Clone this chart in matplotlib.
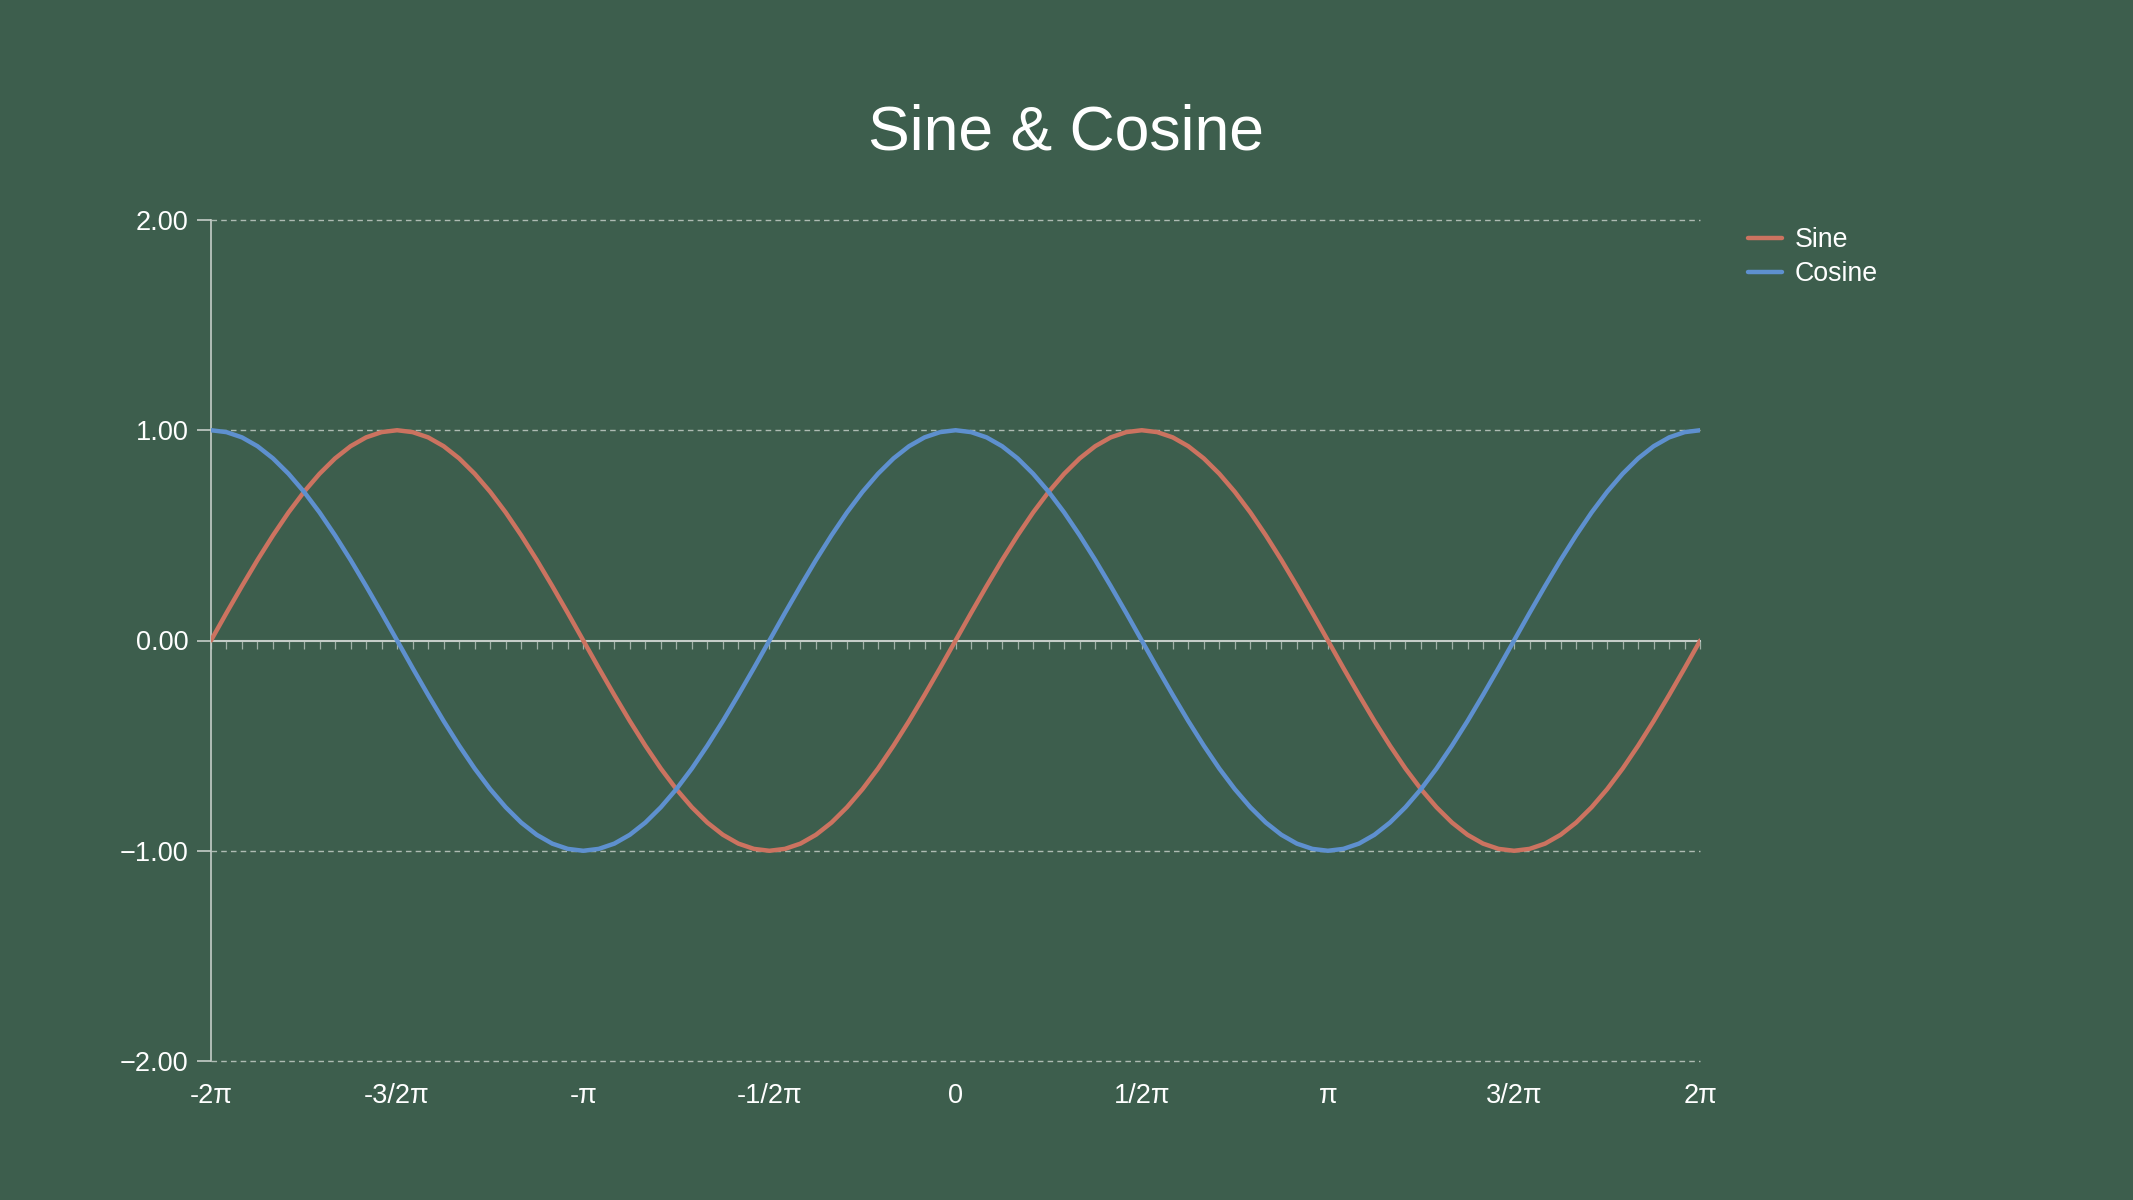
import matplotlib
matplotlib.use("Agg")
import matplotlib.pyplot as plt

plt.rcParams['font.family'] = ['Liberation Sans', 'DejaVu Sans']

# ---- data (sampled every pi/24 from -2pi to 2pi, 97 points) ----
sine = [
    0.0, 0.131, 0.259, 0.383, 0.5, 0.609, 0.707, 0.793, 0.866, 0.924, 0.966, 0.991, 1.0,
    0.991, 0.966, 0.924, 0.866, 0.793, 0.707, 0.609, 0.5, 0.383, 0.259, 0.131, 0.0,
    -0.131, -0.259, -0.383, -0.5, -0.609, -0.707, -0.793, -0.866, -0.924, -0.966, -0.991, -1.0,
    -0.991, -0.966, -0.924, -0.866, -0.793, -0.707, -0.609, -0.5, -0.383, -0.259, -0.131, 0.0,
    0.131, 0.259, 0.383, 0.5, 0.609, 0.707, 0.793, 0.866, 0.924, 0.966, 0.991, 1.0,
    0.991, 0.966, 0.924, 0.866, 0.793, 0.707, 0.609, 0.5, 0.383, 0.259, 0.131, 0.0,
    -0.131, -0.259, -0.383, -0.5, -0.609, -0.707, -0.793, -0.866, -0.924, -0.966, -0.991, -1.0,
    -0.991, -0.966, -0.924, -0.866, -0.793, -0.707, -0.609, -0.5, -0.383, -0.259, -0.131, 0.0,
]
cosine = [
    1.0, 0.991, 0.966, 0.924, 0.866, 0.793, 0.707, 0.609, 0.5, 0.383, 0.259, 0.131, 0.0,
    -0.131, -0.259, -0.383, -0.5, -0.609, -0.707, -0.793, -0.866, -0.924, -0.966, -0.991, -1.0,
    -0.991, -0.966, -0.924, -0.866, -0.793, -0.707, -0.609, -0.5, -0.383, -0.259, -0.131, 0.0,
    0.131, 0.259, 0.383, 0.5, 0.609, 0.707, 0.793, 0.866, 0.924, 0.966, 0.991, 1.0,
    0.991, 0.966, 0.924, 0.866, 0.793, 0.707, 0.609, 0.5, 0.383, 0.259, 0.131, 0.0,
    -0.131, -0.259, -0.383, -0.5, -0.609, -0.707, -0.793, -0.866, -0.924, -0.966, -0.991, -1.0,
    -0.991, -0.966, -0.924, -0.866, -0.793, -0.707, -0.609, -0.5, -0.383, -0.259, -0.131, 0.0,
    0.131, 0.259, 0.383, 0.5, 0.609, 0.707, 0.793, 0.866, 0.924, 0.966, 0.991, 1.0,
]
category_index = list(range(len(sine)))
label_every = 12
x_labels = ["-2π", "-3/2π", "-π", "-1/2π", "0", "1/2π", "π", "3/2π", "2π"]
y_ticks = [-2, -1, 0, 1, 2]
y_labels = ["−2.00", "−1.00", "0.00", "1.00", "2.00"]
title = "Sine & Cosine"
series_names = ["Sine", "Cosine"]

# ---- style ----
BG = "#3d5e4d"
SINE_C = "#cc7360"
COS_C = "#5e90cf"
AXIS_C = "#c5cdc8"
TICK_C = "#9fb0a6"
GRID_C = "#aebbb3"
TEXT_C = "#ffffff"

fig = plt.figure(figsize=(21.33, 12), dpi=100, facecolor=BG)
ax = fig.add_axes([0.0989, 0.1158, 0.6982, 0.7009])
ax.set_facecolor(BG)

ax.plot(category_index, sine, color=SINE_C, lw=3.2, label=series_names[0],
        solid_capstyle='round', zorder=3)
ax.plot(category_index, cosine, color=COS_C, lw=3.2, label=series_names[1],
        solid_capstyle='round', zorder=3)

ax.set_xlim(category_index[0], category_index[-1])
ax.set_ylim(y_ticks[0], y_ticks[-1])

# gridlines (dashed) except at 0
for yv in y_ticks:
    if yv != 0:
        ax.axhline(yv, color=GRID_C, lw=1.0, ls=(0, (4, 3)), zorder=1, clip_on=False)

# y axis
ax.set_yticks(y_ticks)
ax.set_yticklabels(y_labels)
ax.tick_params(axis='y', length=10, width=1.2, color=AXIS_C, direction='out',
               labelsize=19.5, labelcolor=TEXT_C, pad=6)

# x axis through zero with small ticks at every category
for s in ['top', 'right']:
    ax.spines[s].set_visible(False)
ax.spines['left'].set_color(AXIS_C)
ax.spines['left'].set_linewidth(1.2)
ax.spines['bottom'].set_position(('data', 0))
ax.spines['bottom'].set_color(AXIS_C)
ax.spines['bottom'].set_linewidth(1.5)
ax.spines['bottom'].set_zorder(2)
ax.set_xticks(category_index)
ax.tick_params(axis='x', length=6, width=0.9, color=TICK_C, direction='out',
               labelbottom=False)

# category labels at the bottom of the plot
sec = ax.secondary_xaxis(0.0)
sec.set_xticks(category_index[::label_every])
sec.set_xticklabels(x_labels)
sec.tick_params(axis='x', length=0, labelsize=19.5, labelcolor=TEXT_C, pad=16)
for s in sec.spines.values():
    s.set_visible(False)

fig.text(0.5, 0.8755, title, ha='center', va='baseline', fontsize=45, color=TEXT_C)

leg = ax.legend(loc='upper left', bbox_to_anchor=(1.025, 1.004), frameon=False,
                fontsize=19.3, labelcolor=TEXT_C, handlelength=1.25,
                handletextpad=0.5, labelspacing=0.3, borderaxespad=0.0)
for h in leg.get_lines():
    h.set_linewidth(3.2)

fig.savefig("out.png", dpi=100, facecolor=BG)
